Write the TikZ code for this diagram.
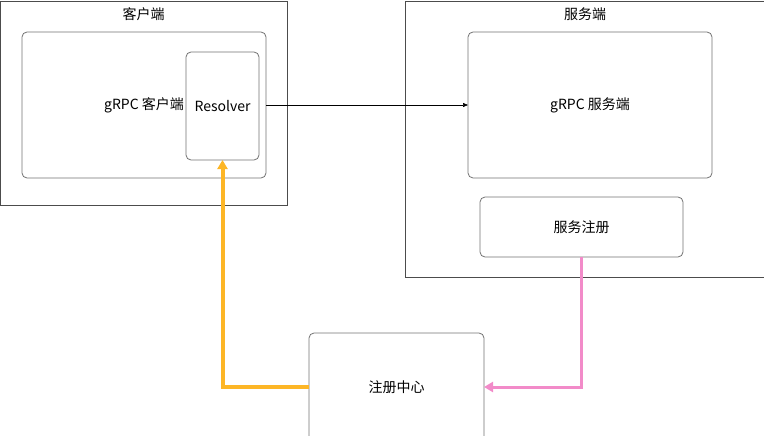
\documentclass[tikz,border=0pt]{standalone}
\usepackage{fontspec}
\setmainfont{Noto Sans CJK SC}
\usetikzlibrary{positioning}
\usetikzlibrary{arrows.meta}
\definecolor{regorange}{HTML}{FDB626}
\definecolor{regpink}{HTML}{F28BC9}
\tikzset{>={Triangle[length=5pt,width=4pt]}}
\tikzset{frame/.style 2 args={draw=black!70,line width=0.8pt,minimum width=#1,minimum height=#2,inner sep=0pt,outer sep=0pt}}
\tikzset{rbox/.style 2 args={frame={#1}{#2},draw=black!55,rounded corners=5pt,fill=white}}
\tikzset{lbl/.style={font=\fontsize{14}{16}\selectfont}}
\tikzset{fat/.style={line width=#1,-{Triangle[length=9pt,width=10pt]}}}

\begin{document}
\begin{tikzpicture}[x=1pt,y=-1pt,lbl]
        \useasboundingbox (0,0) rectangle (764,436);

        % client side
        \node[frame={286.5}{204}] (client) at (143.75,103) {};
        \node (clientT) at (143.5,14) {客户端};
        \node[rbox={244}{146}] (grpcC) at (144,105) {gRPC 客户端};
        \node[rbox={73}{108}] (res) at (222.5,106) {Resolver};

        % server side
        \node[frame={365}{276}] (server) at (587.5,139) {};
        \node (serverT) at (585,14) {服务端};
        \node[rbox={244}{146}] (grpcS) at (590,105) {gRPC 服务端};
        \node[rbox={203}{60}] (reg) at (581.5,227) {服务注册};

        \node[rbox={175}{108}] (center) at (396.5,387) {注册中心};

        \draw[->,line width=0.6pt] (grpcC.east) -- (grpcC.east -| grpcS.west);
        \draw[fat=4pt,draw=regorange] (center.west) -| (res.south);
        \draw[fat=3pt,draw=regpink] (reg.south) |- (center.east);

    \end{tikzpicture}
\end{document}
